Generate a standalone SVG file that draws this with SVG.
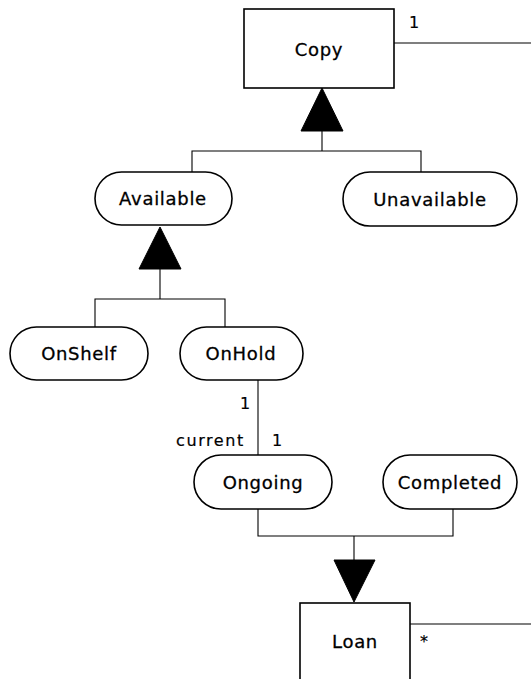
<svg xmlns="http://www.w3.org/2000/svg" width="531" height="679" viewBox="0 0 531 679">
<style>
.node{fill:#fff;stroke:#000;stroke-width:1.6}
.lbl{font-family:"DejaVu Sans","Liberation Sans",sans-serif;font-size:18px;letter-spacing:0.7px;fill:#000;stroke:#000;stroke-width:0.3;text-anchor:middle;dominant-baseline:central}
.small{font-family:"DejaVu Sans","Liberation Sans",sans-serif;font-size:16px;letter-spacing:1.6px;fill:#000;stroke:#000;stroke-width:0.2}
.conn{fill:none;stroke:#000;stroke-width:1.1}
.tri{fill:#000;stroke:#000;stroke-width:1}
</style>
<rect width="531" height="679" fill="#fff"/>
<g id="connectors">
<line class="conn" x1="394" y1="43" x2="531" y2="43"/>
<polygon class="tri" points="322,88 301,131 343,131"/>
<polyline class="conn" points="322,131 322,151"/>
<polyline class="conn" points="192,172 192,151 421,151 421,172"/>
<polygon class="tri" points="160,227 139,269 181,269"/>
<polyline class="conn" points="160,269 160,299"/>
<polyline class="conn" points="95,327 95,299 225,299 225,327"/>
<line class="conn" x1="258" y1="380" x2="258" y2="455"/>
<polyline class="conn" points="258,509 258,536 453,536 453,509"/>
<line class="conn" x1="354" y1="536" x2="354" y2="560"/>
<polygon class="tri" points="334,560 375,560 354,602"/>
<line class="conn" x1="410" y1="624" x2="531" y2="624"/>
<text class="small" x="409" y="28">1</text>
<text class="small" x="240" y="409">1</text>
<text class="small" x="176" y="446">current</text>
<text class="small" x="272" y="446">1</text>
<text class="small" x="420" y="647">*</text>
</g>
<g id="copy"><rect class="node" x="244" y="9" width="150" height="79"/><text class="lbl" x="319" y="49">Copy</text></g>
<g id="available"><rect class="node" x="95" y="172" width="137" height="53" rx="26.5"/><text class="lbl" x="163" y="198">Available</text></g>
<g id="unavailable"><rect class="node" x="343" y="172" width="174" height="54" rx="27"/><text class="lbl" x="430" y="199">Unavailable</text></g>
<g id="onshelf"><rect class="node" x="10" y="327" width="138" height="53" rx="26.5"/><text class="lbl" x="79" y="353">OnShelf</text></g>
<g id="onhold"><rect class="node" x="180" y="327" width="123" height="53" rx="26.5"/><text class="lbl" x="241" y="353">OnHold</text></g>
<g id="ongoing"><rect class="node" x="194" y="455" width="138" height="54" rx="27"/><text class="lbl" x="263" y="482">Ongoing</text></g>
<g id="completed"><rect class="node" x="383" y="455" width="134" height="54" rx="27"/><text class="lbl" x="450" y="482">Completed</text></g>
<g id="loan"><rect class="node" x="300" y="603" width="110" height="90"/><text class="lbl" x="355" y="641">Loan</text></g>
</svg>
